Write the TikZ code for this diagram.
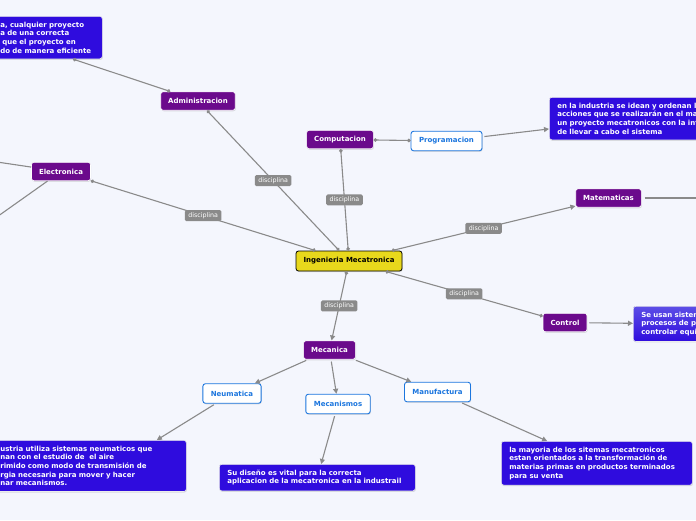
\documentclass[tikz,border=0pt]{standalone}
\usepackage{fontspec}
\setmainfont{DejaVu Sans}
\usetikzlibrary{arrows.meta,shadows}

\definecolor{bgpage}{RGB}{244,246,253}
\definecolor{mecyellow}{RGB}{232,216,28}
\definecolor{branchpurple}{RGB}{107,10,140}
\definecolor{infoblue}{RGB}{47,12,222}
\definecolor{infolight}{RGB}{92,78,230}
\definecolor{linkgray}{RGB}{138,138,138}
\definecolor{subblue}{RGB}{28,118,222}

\tikzset{
  softshadow/.style={drop shadow={opacity=0.25,shadow xshift=0.6pt,shadow yshift=-1pt}},
  mainnode/.style={rounded corners=2.5pt, fill=mecyellow, draw=black, line width=0.8pt,
    font=\bfseries\fontsize{7}{8.6}\selectfont, minimum width=106pt, minimum height=20pt,
    inner ysep=0pt, softshadow},
  branch/.style={rounded corners=2.5pt, fill=branchpurple, draw=white, line width=0.6pt,
    text=white, font=\bfseries\fontsize{7}{8.6}\selectfont, inner xsep=7.5pt,
    minimum height=18.5pt, inner ysep=0pt, softshadow},
  subbranch/.style={rounded corners=2.5pt, fill=white, draw=subblue, line width=0.9pt,
    text=subblue, font=\bfseries\fontsize{7}{8.6}\selectfont, inner xsep=8pt,
    minimum height=19.5pt, inner ysep=0pt, softshadow},
  infobox/.style={rounded corners=2.5pt, fill=infoblue, draw=white!85!gray, line width=0.6pt,
    text=white, font=\bfseries\fontsize{7}{8.7}\selectfont, align=left,
    inner xsep=8pt, inner ysep=5.5pt, softshadow},
  tag/.style={rounded corners=1.5pt, fill=linkgray, text=white,
    font=\fontsize{6.3}{7}\selectfont, inner xsep=3.5pt, inner ysep=0pt, minimum height=11pt},
  link/.style={draw=linkgray, line width=1.1pt},
  dots/.style={{Circle[length=3.5pt]}-{Circle[length=3.5pt]}},
  flow/.style={-{Triangle[length=5pt,width=5pt]}, shorten <=2pt},
  dotflow/.style={{Circle[length=3.5pt]}-{Triangle[length=5pt,width=5pt]}}
}

\begin{document}
\begin{tikzpicture}[x=1pt,y=-1pt]
  \useasboundingbox (0,0) rectangle (696,520);
  \fill[bgpage] (0,0) rectangle (696,520);

  % Central topic
  \node[mainnode] (mec) at (349,261) {Ingenieria Mecatronica};

  % Disciplines
  \node[branch] (admin) at (198,101) {Administracion};
  \node[branch] (comp) at (340,139.5) {Computacion};
  \node[branch] (elec) at (61,171.5) {Electronica};
  \node[branch] (mate) at (608.5,198) {Matematicas};
  \node[branch] (ctrl) at (565,322.5) {Control};
  \node[branch] (meca) at (329.5,350) {Mecanica};

  % Sub topics
  \node[subbranch] (prog) at (446.5,141) {Programacion};
  \node[subbranch] (neum) at (232,393.5) {Neumatica};
  \node[subbranch] (mecs) at (338,404) {Mecanismos};
  \node[subbranch] (manu) at (437.5,392) {Manufactura};

  % Notes
  \node[infobox, anchor=north west, text width=94pt] (admintext) at (-8,16)
    {a, cualquier proyecto\\a de una correcta\\\hspace*{2pt}que el proyecto en\\do de manera eficiente};
  \node[infobox, anchor=north west, text width=160pt] (progtext) at (549,97)
    {en la industria se idean y ordenan l\\acciones que se realizarán en el ma\\un proyecto mecatronicos con la int\\de llevar a cabo el sistema};
  \node[infobox, anchor=north west, text width=80pt, top color=infolight, bottom color=infoblue] (ctrltext) at (633,306)
    {Se usan sistem\\procesos de pr\\controlar equi};
  \node[infobox, anchor=north west, text width=178pt] (neumtext) at (-8,440)
    {ustria utiliza sistemas neumaticos que\\nan con el estudio de\ \ el aire\\rimido como modo de transmisión de\\rgia necesaria para mover y hacer\\nar mecanismos.};
  \node[infobox, anchor=north west, text width=180pt] (mecstext) at (219,464)
    {Su diseño es vital para la correcta\\aplicacion de la mecatronica en la industrail};
  \node[infobox, anchor=north west, text width=175pt] (manutext) at (501,441)
    {la mayoria de los sitemas mecatronicos\\estan orientados a la transformación de\\materias primas en productos terminados\\para su venta};

  % Branches leaving the picture
  \coordinate (elecfarW) at (-30,158);
  \coordinate (elecfarSW) at (-30,236);
  \coordinate (matefar) at (720,198);

  % Disciplina links
  \draw[link, dots] (mec) -- (admin) node[midway, tag] {disciplina};
  \draw[link, dots] (mec) -- (comp) node[midway, tag] {disciplina};
  \draw[link, dots] (mec) -- (elec) node[midway, tag] {disciplina};
  \draw[link, dotflow] (mec) -- (mate) node[midway, tag] {disciplina};
  \draw[link, dots] (mec) -- (ctrl) node[midway, tag] {disciplina};
  \draw[link, dotflow] (mec) -- (meca) node[midway, tag] {disciplina};

  % Other links
  \draw[link, dots] (admin.161) -- (admintext.-40);
  \draw[link, dots] (comp) -- (prog);
  \draw[link, flow] (prog) -- (progtext);
  \draw[link, flow] (ctrl) -- (ctrltext);
  \draw[link, flow] (meca) -- (neum);
  \draw[link, flow] (meca) -- (mecs);
  \draw[link, flow] (meca) -- (manu);
  \draw[link, flow] (neum) -- (neumtext.21);
  \draw[link, flow] (mecs) -- (mecstext);
  \draw[link, flow] (manu) -- (manutext);
  \draw[link] (elec) -- (elecfarW);
  \draw[link] (elec) -- (elecfarSW);
  \draw[link, shorten <=3pt] (mate) -- (matefar);
\end{tikzpicture}
\end{document}
